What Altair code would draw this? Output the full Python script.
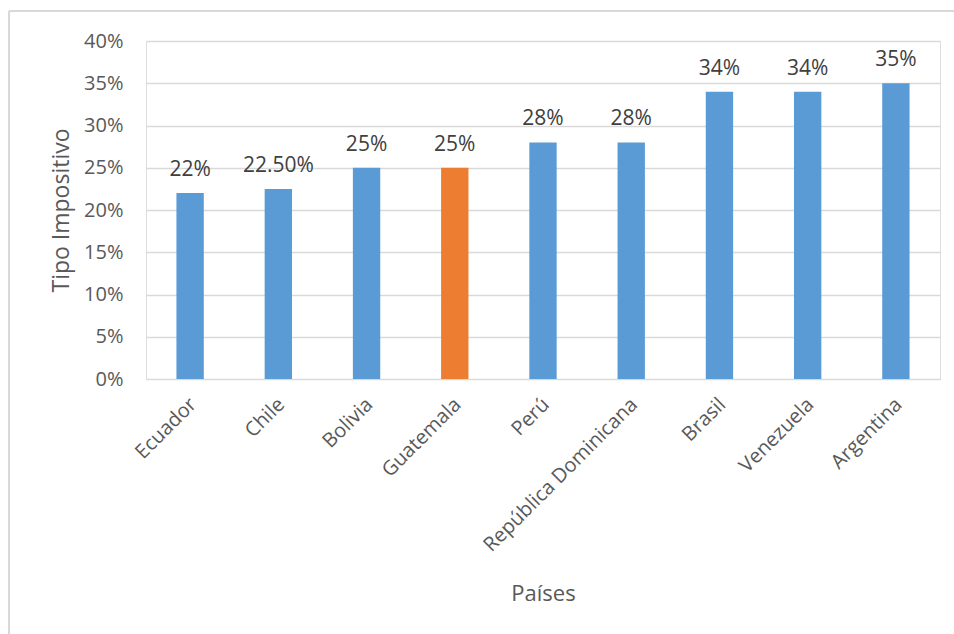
import altair as alt
import pandas as pd

paises = ["Ecuador", "Chile", "Bolivia", "Guatemala", "Perú",
          "República Dominicana", "Brasil", "Venezuela", "Argentina"]
tasas = [22, 22.5, 25, 25, 28, 28, 34, 34, 35]
etiquetas = ["22%", "22.50%", "25%", "25%", "28%", "28%", "34%", "34%", "35%"]
grupo = ["otro", "otro", "otro", "Guatemala", "otro", "otro", "otro", "otro", "otro"]

df = pd.DataFrame({"pais": paises, "tasa": [t / 100 for t in tasas],
                   "etiqueta": etiquetas, "grupo": grupo})

FONT = "Open Sans"

x = alt.X("pais:N", sort=paises, title="Países",
          scale=alt.Scale(paddingInner=0.69, paddingOuter=0.345),
          axis=alt.Axis(labelAngle=-45, labelFontSize=20, labelColor="#595959",
                        labelFont=FONT, ticks=False, domain=False, labelPadding=15,
                        labelLimit=400, labelOffset=-4,
                        titleFont=FONT, titleFontSize=22, titleColor="#595959",
                        titleFontWeight="normal", titleY=214, titleBaseline="middle"))
y = alt.Y("tasa:Q", title="Tipo Impositivo",
          scale=alt.Scale(domain=[0, 0.4]),
          axis=alt.Axis(format=".0%", values=[0, 0.05, 0.1, 0.15, 0.2, 0.25, 0.3, 0.35, 0.4],
                        labelFontSize=20, labelColor="#595959", labelFont=FONT,
                        ticks=False, domain=False, labelPadding=23,
                        gridColor="#d9d9d9", gridWidth=1.3,
                        titleFont=FONT, titleFontSize=23, titleColor="#595959",
                        titleFontWeight="normal", titleX=-85, titleBaseline="middle"))

bars = alt.Chart(df).mark_bar().encode(
    x=x, y=y,
    color=alt.Color("grupo:N", scale=alt.Scale(domain=["otro", "Guatemala"],
                                                range=["#5B9BD5", "#ED7D31"]), legend=None),
)

text = alt.Chart(df).mark_text(baseline="alphabetic", dy=-17, fontSize=21,
                               font=FONT, color="#404040").encode(
    x=alt.X("pais:N", sort=paises), y="tasa:Q", text="etiqueta:N")

border = alt.Chart(df).mark_rule(color="#d9d9d9", strokeWidth=1.5, clip=False).encode(
    x=alt.value(-137), y=alt.value(-30), y2=alt.value(600))
border_top = alt.Chart(df).mark_rule(color="#d9d9d9", strokeWidth=1.5, clip=False).encode(
    x=alt.value(-137), x2=alt.value(820), y=alt.value(-30))

chart = alt.layer(bars, text, border, border_top).properties(
    width=794, height=338,
    autosize=alt.AutoSizeParams(type="none"),
    padding={"left": 146, "top": 41, "right": 14, "bottom": 255},
).configure_view(stroke=None).configure(background="white")

chart.save("out.html", embed_options={"renderer": "svg", "actions": False})
